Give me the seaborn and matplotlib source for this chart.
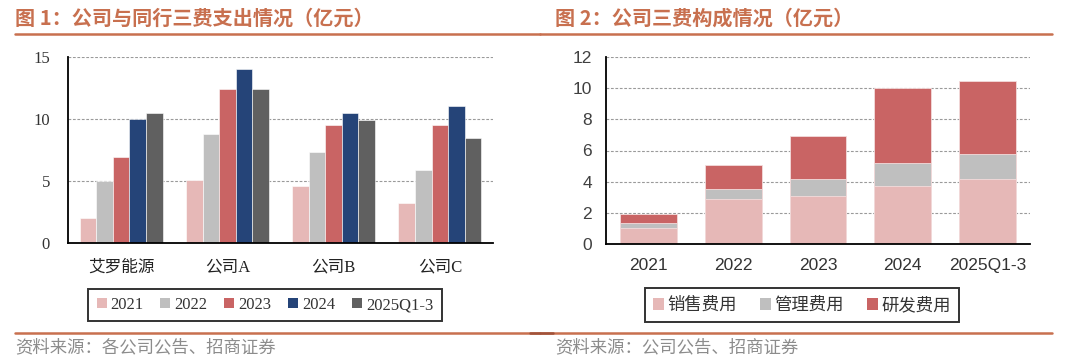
import matplotlib
matplotlib.use("Agg")
import matplotlib.pyplot as plt
from matplotlib.lines import Line2D
from matplotlib.patches import Patch
import seaborn as sns
import pandas as pd
import numpy as np

# ---------------- data ----------------
companies = ['艾罗能源', '公司A', '公司B', '公司C']
years = ['2021', '2022', '2023', '2024', '2025Q1-3']
v2021 = [2.0, 5.1, 4.6, 3.2]
v2022 = [5.0, 8.8, 7.3, 5.9]
v2023 = [6.95, 12.45, 9.5, 9.5]
v2024 = [10.0, 14.05, 10.45, 11.05]
v2025 = [10.45, 12.4, 9.95, 8.5]

periods = ['2021', '2022', '2023', '2024', '2025Q1-3']
sales = [1.0, 2.87, 3.11, 3.75, 4.16]
admin = [0.37, 0.64, 1.09, 1.44, 1.63]
rnd = [0.58, 1.53, 2.72, 4.81, 4.65]
cost_names = ['销售费用', '管理费用', '研发费用']

left_colors = ['#E6B8B7', '#BFBFBF', '#C96464', '#254478', '#606060']
right_colors = ['#E6B8B7', '#BFBFBF', '#C96464']
accent = '#C8704F'

sns.set_theme(style='white')
plt.rcParams['font.family'] = ['Liberation Serif', 'Noto Sans CJK SC', 'DejaVu Sans']
plt.rcParams['axes.unicode_minus'] = False

fig = plt.figure(figsize=(10.8, 3.59), dpi=100)
W, H = 1080, 359

def fx(px):
    return px / W

def fy(py):
    return 1 - py / H

# ---------------- left chart ----------------
axL = fig.add_axes([fx(68), fy(243), fx(493) - fx(68), fy(57) - fy(243)])
rows = []
for yname, vals in zip(years, [v2021, v2022, v2023, v2024, v2025]):
    for c, v in zip(companies, vals):
        rows.append({'公司': c, '年份': yname, '值': v})
dfL = pd.DataFrame(rows)
sns.barplot(data=dfL, x='公司', y='值', hue='年份', order=companies, hue_order=years,
            palette=left_colors, width=0.78, saturation=1, ax=axL,
            edgecolor='white', linewidth=0.4, legend=False)
axL.set_ylim(0, 15)
axL.set_xlim(-0.5, len(companies) - 0.5)
axL.set_yticks([0, 5, 10, 15])
axL.set_xlabel('')
axL.set_ylabel('')
for yv in [5, 10, 15]:
    axL.axhline(yv, color='#9A9A9A', lw=0.8, ls=(0, (2.5, 1.5)), zorder=0)
axL.set_xticks(np.arange(-0.5, len(companies), 1.0), minor=True)
axL.tick_params(axis='x', which='minor', length=5, width=1.2, color='black', direction='out')
axL.tick_params(axis='x', which='major', length=0, pad=12, labelsize=12, labelcolor='#222222')
axL.tick_params(axis='y', length=4, width=1.2, color='black', direction='out', pad=9,
                labelsize=12, labelcolor='#333333')
for lab in axL.get_xticklabels():
    lab.set_family(['Liberation Serif', 'Noto Sans CJK SC'])
for s in ['top', 'right']:
    axL.spines[s].set_visible(False)
for s in ['left', 'bottom']:
    axL.spines[s].set_color('black')
    axL.spines[s].set_linewidth(1.3)

handlesL = [Patch(facecolor=c, edgecolor='none') for c in left_colors]
legL = fig.legend(handlesL, years, loc='center', bbox_to_anchor=(fx(265), fy(305)),
                  bbox_transform=fig.transFigure, ncol=5, frameon=True, fancybox=False,
                  handlelength=0.6, handleheight=0.6, handletextpad=0.25, columnspacing=1.0,
                  borderpad=0.5, borderaxespad=0,
                  prop={'family': ['Liberation Serif'], 'size': 12})
legL.get_frame().set_edgecolor('black')
legL.get_frame().set_linewidth(1.4)
for t in legL.get_texts():
    t.set_color('#333333')

# ---------------- right chart ----------------
axR = fig.add_axes([fx(606), fy(244), fx(1030) - fx(606), fy(57) - fy(244)])
cum3 = [a + b + c for a, b, c in zip(sales, admin, rnd)]
cum2 = [a + b for a, b in zip(sales, admin)]
for heights, col in zip([cum3, cum2, sales], right_colors[::-1]):
    dfR = pd.DataFrame({'期间': periods, '值': heights})
    sns.barplot(data=dfR, x='期间', y='值', order=periods, color=col, saturation=1,
                width=0.67, ax=axR, edgecolor='#F3DCDC', linewidth=0.6)
axR.set_ylim(0, 12)
axR.set_xlim(-0.5, len(periods) - 0.5)
axR.set_yticks(range(0, 13, 2))
axR.set_xlabel('')
axR.set_ylabel('')
for yv in range(2, 13, 2):
    axR.axhline(yv, color='#9A9A9A', lw=0.8, ls=(0, (2.5, 1.5)), zorder=0)
axR.set_xticks(np.arange(-0.5, len(periods), 1.0), minor=True)
axR.tick_params(axis='x', which='minor', length=5, width=1.2, color='black', direction='out')
axR.tick_params(axis='x', which='major', length=0, pad=10, labelsize=12.5, labelcolor='#333333')
axR.tick_params(axis='y', length=4, width=1.2, color='black', direction='out', pad=6,
                labelsize=12.5, labelcolor='#404040')
for lab in axR.get_xticklabels() + axR.get_yticklabels():
    lab.set_family(['Liberation Sans'])
for s in ['top', 'right']:
    axR.spines[s].set_visible(False)
for s in ['left', 'bottom']:
    axR.spines[s].set_color('black')
    axR.spines[s].set_linewidth(1.3)

handlesR = [Patch(facecolor=c, edgecolor='none') for c in right_colors]
legR = fig.legend(handlesR, cost_names, loc='center', bbox_to_anchor=(fx(802), fy(305)),
                  bbox_transform=fig.transFigure, ncol=3, frameon=True, fancybox=False,
                  handlelength=0.65, handleheight=0.65, handletextpad=0.2, columnspacing=1.3,
                  borderpad=0.45, prop={'family': ['Noto Sans CJK SC'], 'size': 12.5})
legR.get_frame().set_edgecolor('black')
legR.get_frame().set_linewidth(1.4)
for t in legR.get_texts():
    t.set_color('#333333')

# ---------------- titles, rules, sources ----------------
fig.text(fx(15), fy(18), '图 1：公司与同行三费支出情况（亿元）', ha='left', va='center',
         fontsize=14.5, fontweight='bold', color=accent, family=['Noto Sans CJK SC'])
fig.text(fx(555), fy(18), '图 2：公司三费构成情况（亿元）', ha='left', va='center',
         fontsize=14.5, fontweight='bold', color=accent, family=['Noto Sans CJK SC'])

for x0, x1, yy in [(15, 540, 33.5), (540, 1052, 33.5), (15, 540, 333), (540, 1052, 333)]:
    fig.add_artist(Line2D([fx(x0), fx(x1)], [fy(yy), fy(yy)], transform=fig.transFigure,
                          color=accent, lw=1.8))
fig.add_artist(Line2D([fx(530), fx(553)], [fy(333), fy(333)], transform=fig.transFigure,
                      color='#A0523A', lw=1.8))

fig.text(fx(15), fy(347), '资料来源：各公司公告、招商证券', ha='left', va='center',
         fontsize=12.5, color='#8C8C8C', family=['Noto Sans CJK SC'])
fig.text(fx(555), fy(347), '资料来源：公司公告、招商证券', ha='left', va='center',
         fontsize=12.5, color='#8C8C8C', family=['Noto Sans CJK SC'])

fig.savefig('out.png', dpi=100, facecolor='white')
